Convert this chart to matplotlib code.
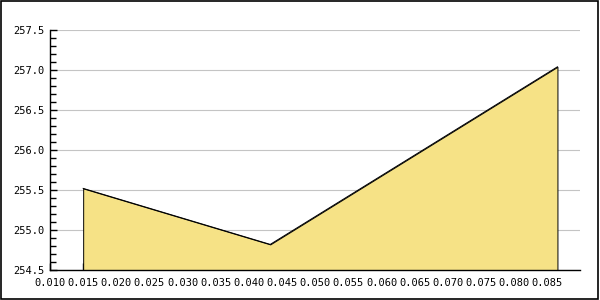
import matplotlib.pyplot as plt
from matplotlib.ticker import MultipleLocator, FormatStrFormatter
from matplotlib.patches import Rectangle

x_vals = [0.015, 0.0432, 0.0865]
y_vals = [255.52, 254.82, 257.04]

x_range = (0.010, 0.0899)
y_range = (254.5, 257.5)

fig = plt.figure(figsize=(6, 3), dpi=100)
ax = fig.add_axes([50 / 600, 0.1, 530 / 600, 0.8])

ax.fill_between(x_vals, y_vals, y_range[0], facecolor='#f6e286',
                edgecolor='black', linewidth=0.7, zorder=3)
ax.plot(x_vals, y_vals, color='black', linewidth=0.7, zorder=4)

ax.set_xlim(*x_range)
ax.set_ylim(*y_range)

ax.xaxis.set_major_locator(MultipleLocator(0.005))
ax.xaxis.set_major_formatter(FormatStrFormatter('%.3f'))
ax.yaxis.set_major_locator(MultipleLocator(0.5))
ax.yaxis.set_minor_locator(MultipleLocator(0.1))
ax.yaxis.set_major_formatter(FormatStrFormatter('%.1f'))

ax.grid(axis='y', which='major', color='#c4c4c4', linewidth=0.8, zorder=1)
ax.set_axisbelow(True)

for s in ['top', 'right']:
    ax.spines[s].set_visible(False)
for s in ['left', 'bottom']:
    ax.spines[s].set_linewidth(1)
    ax.spines[s].set_zorder(5)

ax.tick_params(axis='both', which='major', direction='in', length=5, width=1,
               labelsize=7.5, pad=4)
ax.tick_params(axis='x', which='major', pad=5.5)
ax.tick_params(axis='y', which='minor', direction='in', length=4, width=1)
for lab in ax.get_xticklabels() + ax.get_yticklabels():
    lab.set_family('DejaVu Sans Mono')

fig.patches.append(Rectangle((0.001, 0.002), 0.996, 0.995, transform=fig.transFigure,
                             fill=False, edgecolor='black', linewidth=1.2))

fig.savefig('out.png', dpi=100)
